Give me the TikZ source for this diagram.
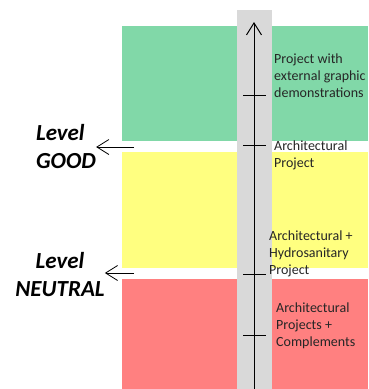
\documentclass[tikz,border=0pt]{standalone}
\usepackage{fontspec}
\setmainfont{Carlito}
\usetikzlibrary{arrows.meta, positioning}

\definecolor{bandgreen}{RGB}{129,216,168}
\definecolor{bandyellow}{RGB}{255,255,128}
\definecolor{bandred}{RGB}{255,128,128}
\definecolor{bargray}{RGB}{217,217,217}
\definecolor{inkgray}{RGB}{38,38,38}

\begin{document}
\begin{tikzpicture}[x=1pt, y=-1pt, >={Straight Barb[length=12pt,width=15pt]},
		lbl/.style={anchor=north west, align=left, inner sep=0pt, text=inkgray, font=\fontsize{14}{17}\selectfont},
		lvl/.style={anchor=north, inner sep=0pt, font=\fontsize{23}{28}\selectfont\bfseries\itshape}]
	\useasboundingbox (0,0) rectangle (368,389);
	
	% quality bands and the scale behind the axis
	\fill[bandgreen] (122,26) rectangle (368,141);
	\fill[bandyellow] (122,152) rectangle (368,268);
	\fill[bandred] (122,279) rectangle (368,389);
	\fill[bargray] (237,10) rectangle (272,389);
	
	\coordinate (axbot) at (254,389);
	\coordinate (axtop) at (254,22);
	\draw[->, line width=1pt] (axbot) -- (axtop);
	\foreach \y in {95,145,274,335}
		\draw[line width=0.8pt] (243,\y) -- (266,\y);
	
	% project stages
	\node[lbl] (extgraph) at (274,54) {Project with\\external graphic\\demonstrations};
	\node[lbl] (archproj) at (274,141) {Architectural\\Project};
	\node[lbl] (hydro) at (269,231) {Architectural +\\Hydrosanitary\\Project};
	\node[lbl] (complem) at (276,303) {Architectural\\Projects +\\Complements};
	
	% levels
	\node[lvl, align=left] (good) at (66,124) {Level\\GOOD};
	\node[lvl, align=center] (neutral) at (60,252) {Level\\NEUTRAL};
	
	\coordinate (goodtail) at (134,147);
	\coordinate (neutraltail) at (134,273);
	\draw[->, line width=0.8pt] (goodtail) -- (goodtail -| good.east);
	\draw[->, line width=0.8pt] (neutraltail) -- (neutraltail -| neutral.east);
\end{tikzpicture}
\end{document}
